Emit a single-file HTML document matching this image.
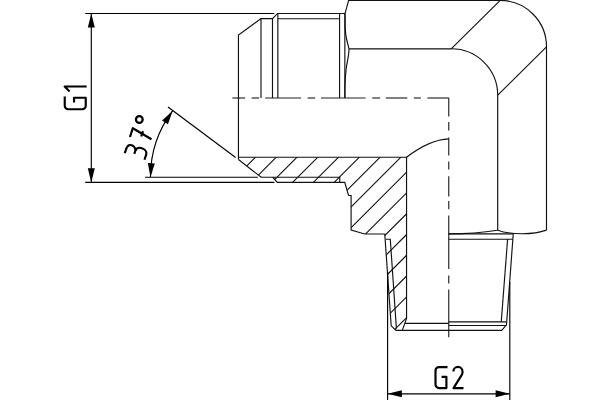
<!DOCTYPE html>
<html><head><meta charset="utf-8"><title>Fitting</title>
<style>
html,body{margin:0;padding:0;background:#fff;}
body{width:600px;height:400px;overflow:hidden;font-family:"Liberation Sans",sans-serif;}
svg{display:block;}
</style></head><body>
<svg width="600" height="400" viewBox="0 0 600 400">
<rect width="600" height="400" fill="#fff"/>
<defs>
<clipPath id="sec"><polygon points="238.45,157.25 406.55,157.25 406.55,318.5 402.3,330.4 396,330.4 391.2,325.8 384.75,234 364.8,234 351.1,230 351.1,195.6 348.5,195.2 344.75,182.4 277.3,182.4 272.8,177.25 260.8,176.9 238.45,159.5"/></clipPath>
</defs>

<!-- hatch -->
<g clip-path="url(#sec)" stroke="#111" stroke-width="1.1" fill="none">
<line x1="262.70" y1="150" x2="72.70" y2="340"/>
<line x1="283.46" y1="150" x2="93.46" y2="340"/>
<line x1="304.23" y1="150" x2="114.23" y2="340"/>
<line x1="325.00" y1="150" x2="135.00" y2="340"/>
<line x1="345.76" y1="150" x2="155.76" y2="340"/>
<line x1="366.52" y1="150" x2="176.52" y2="340"/>
<line x1="387.29" y1="150" x2="197.29" y2="340"/>
<line x1="408.06" y1="150" x2="218.06" y2="340"/>
<line x1="428.82" y1="150" x2="238.82" y2="340"/>
<line x1="449.59" y1="150" x2="259.59" y2="340"/>
<line x1="470.35" y1="150" x2="280.35" y2="340"/>
<line x1="491.12" y1="150" x2="301.12" y2="340"/>
<line x1="511.88" y1="150" x2="321.88" y2="340"/>
<line x1="532.64" y1="150" x2="342.64" y2="340"/>
<line x1="553.41" y1="150" x2="363.41" y2="340"/>
<line x1="574.17" y1="150" x2="384.17" y2="340"/>
<line x1="594.94" y1="150" x2="404.94" y2="340"/>
</g>

<!-- centerlines -->
<g stroke="#222" stroke-width="1.15" fill="none">
<line x1="232.35" y1="98" x2="245.1" y2="98"/>
<line x1="251.6" y1="98" x2="259.1" y2="98"/>
<line x1="265.25" y1="98" x2="301.1" y2="98"/>
<line x1="307.6" y1="98" x2="315.1" y2="98"/>
<line x1="320.9" y1="98" x2="365.6" y2="98"/>
<line x1="372.25" y1="98" x2="380.1" y2="98"/>
<line x1="385.9" y1="98" x2="407.25" y2="98"/>
<line x1="413.9" y1="98" x2="420.9" y2="98"/>
<line x1="427.4" y1="98" x2="448.85" y2="98"/>
<line x1="448.75" y1="98" x2="448.75" y2="116.5"/>
<line x1="448.75" y1="122.1" x2="448.75" y2="130.5"/>
<line x1="448.75" y1="137.5" x2="448.75" y2="155.5"/>
<line x1="448.75" y1="161.4" x2="448.75" y2="169.6"/>
<line x1="448.75" y1="176.25" x2="448.75" y2="196.4"/>
<line x1="448.75" y1="201" x2="448.75" y2="209.2"/>
<line x1="448.75" y1="215.5" x2="448.75" y2="268.9"/>
<line x1="448.75" y1="275.5" x2="448.75" y2="283.4"/>
<line x1="448.75" y1="289.5" x2="448.75" y2="337.25"/>
</g>

<!-- main outline -->
<g stroke="#111" stroke-width="1.15" fill="none" stroke-linejoin="miter" stroke-linecap="butt">
<!-- left nose upper half -->
<path d="M238.45,159.5 V35.1 L261,18.55 H272.5 L277.6,13.45 H345"/>
<line x1="261" y1="18.55" x2="261" y2="98"/>
<line x1="272.5" y1="18.55" x2="272.5" y2="98"/>
<line x1="277.85" y1="13.45" x2="277.85" y2="98"/>
<line x1="277.85" y1="18.7" x2="339.55" y2="18.7"/>
<line x1="339.55" y1="13.3" x2="339.55" y2="98"/>
<line x1="344.85" y1="13.3" x2="344.85" y2="98"/>
<!-- hex -->
<path d="M345.1,13.45 L348.6,0.4 H500.1 A46.4,46.4 0 0 1 546.5,46.8 V230.1"/>
<path d="M345.1,13.3 L345.2,28 Q345.4,33.5 346.75,40 L349,48.8 C348.9,55 347.5,61 346.75,65 C346,69 345.3,78 345,85 L344.9,98"/>
<path d="M349,48.8 H451.2 A46.4,46.4 0 0 1 497.7,95.2 V230.25"/>
<line x1="451.2" y1="48.8" x2="500.2" y2="0.4"/>
<line x1="497.7" y1="95.2" x2="546.5" y2="46.8"/>
<!-- hex bottom arcs -->
<path d="M497.7,230.2 C503,232.1 509,233.7 522.2,233.7 C535,233.7 541,232.1 546.5,230.1"/>
<path d="M448.7,233.85 Q475,233.85 497.7,230.25"/>
<!-- section lower half -->
<path d="M238.45,157.25 H406.55 V318.5 L402.3,330.4"/>
<path d="M238.45,159.5 L260.8,176.9 L262,177.25 H339.75 V182.4"/>
<path d="M272.8,177.25 L277.3,182.4 H344.75 L348.5,195.2 L351.1,195.6 V230 L364.8,234 H384.75 L391.2,325.8 L396,330.4 H501.7 L506.5,324.8 L513.25,233.85 H448.7"/>
<path d="M385.8,239.2 H390.3 L396.4,328.6"/>
<path d="M405,323.3 H448.7"/>
<path d="M448.7,321.8 H506.6"/>
<path d="M448.7,325.5 H506.3"/>
<path d="M448.7,239.25 H512.7"/>
<path d="M507.6,239.25 L501.25,321.8"/>
<!-- intersection curve -->
<path d="M406.55,157.25 Q430,139.5 448.75,138.9"/>
</g>

<!-- dimensions -->
<g stroke="#000" stroke-width="1.15" fill="none">
<line x1="85.2" y1="13.5" x2="274.3" y2="13.5"/>
<line x1="85.2" y1="182.4" x2="274.4" y2="182.4"/>
<line x1="91.3" y1="13.5" x2="91.3" y2="182.4"/>
<line x1="145" y1="177.25" x2="257.75" y2="177.25"/>
<line x1="168.0" y1="106.95" x2="235.6" y2="157.5"/>
<path d="M150.45,177.25 A110.55,110.55 0 0 1 172.71,110.72"/>
<line x1="387.6" y1="272" x2="387.6" y2="400"/>
<line x1="509.8" y1="282" x2="509.8" y2="400"/>
<line x1="387.6" y1="393.9" x2="509.8" y2="393.9"/>
</g>
<g fill="#000" stroke="none">
<polygon points="91.3,13.4 87.8,27.5 94.8,27.5"/>
<polygon points="91.3,182.4 87.8,168.2 94.8,168.2"/>
<polygon points="387.6,393.85 401.8,390.35 401.8,397.35"/>
<polygon points="509.8,393.85 495.6,390.35 495.6,397.35"/>
<polygon points="150.45,177.25 147.84,163.06 154.83,163.50"/>
<polygon points="172.71,110.72 167.93,124.34 162.09,120.49"/>
</g>

<!-- text glyphs -->
<g stroke="#000" stroke-width="2.15" fill="none" stroke-linejoin="round" stroke-linecap="butt">
<!-- G2 -->
<g transform="translate(435.5,388.1)">
<path d="M12,-21 H3.5 A3.5,3.5 0 0 0 0,-17.5 V-3.5 A3.5,3.5 0 0 0 3.5,0 H10.9 V-11.2 H6.1"/>
<path d="M17.9,-16.7 A4.55,4.55 0 0 1 27,-16.7 V-15.6 Q27,-14.3 26.1,-13 L18,0 H28"/>
</g>
<!-- G1 rotated -->
<g transform="translate(85.75,109.2) rotate(-90)">
<path d="M12.6,-21 H3.5 A3.5,3.5 0 0 0 0,-17.5 V-3.5 A3.5,3.5 0 0 0 3.5,0 H11.5 V-11.7 H6.6"/>
<path d="M17.7,-16.15 L22.75,-21.1 V0.9"/>
</g>
<!-- 37deg -->
<g transform="translate(0.1,0.5)"><path d="M124.7,152.7 L126.2,148.2 C127.2,145.2 129.5,144.3 131,144.6 C133.5,145 135.3,147.5 135.3,150 L134.2,153.3"/>
<path d="M135.3,150 C136.5,147.5 139,147 141,147.5 C144,148.2 146.8,150.5 146.2,153.6 L144.4,159.3"/></g>
<path d="M130,137 L132.8,128.2 L151.5,139.2"/>
<path d="M141.2,136.5 L143,131.2"/>
<circle cx="139.3" cy="119.5" r="3.35" stroke-width="2.3"/>
</g>
</svg>
</body></html>
